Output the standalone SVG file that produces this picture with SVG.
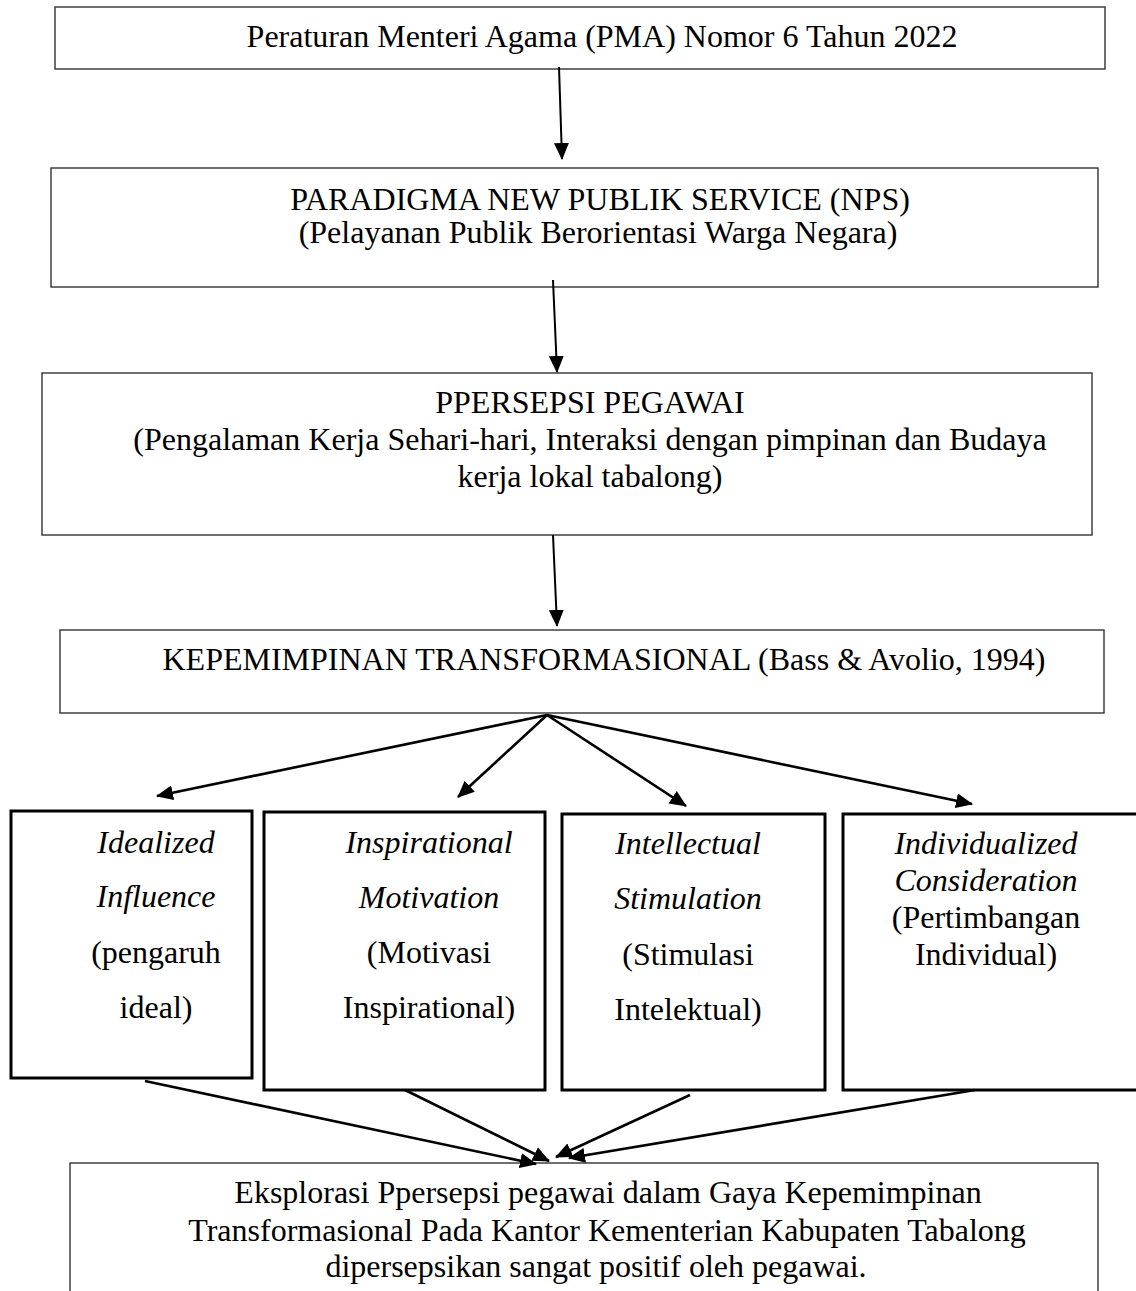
<svg xmlns="http://www.w3.org/2000/svg" width="1136" height="1291" viewBox="0 0 1136 1291">
<style>
.box{fill:#fff;stroke:#333;stroke-width:1.4}
.sub{fill:#fff;stroke:#000;stroke-width:3}
.t{font-family:"Liberation Serif","Times New Roman",serif;font-size:32px;fill:#000;text-anchor:middle}
.i{font-style:italic}
.c{stroke:#000;stroke-width:2;fill:none;marker-end:url(#ah)}
.f{stroke:#000;stroke-width:2.6;fill:none;marker-end:url(#ah)}
</style>
<defs>
<marker id="ah" markerUnits="userSpaceOnUse" markerWidth="17" markerHeight="15" refX="16" refY="7.5" orient="auto" viewBox="0 0 17 15">
<path d="M0,0 L17,7.5 L0,15 z" fill="#000"/>
</marker>
</defs>
<rect width="1136" height="1291" fill="#fff"/>
<g id="n1">
<rect class="box" x="55" y="7" width="1050" height="62"/>
<text class="t" x="602" y="47">Peraturan Menteri Agama (PMA) Nomor 6 Tahun 2022</text>
</g>
<g id="n2">
<rect class="box" x="51" y="168" width="1047" height="119"/>
<text class="t" x="600" y="210">PARADIGMA NEW PUBLIK SERVICE (NPS)</text>
<text class="t" x="598" y="243">(Pelayanan Publik Berorientasi Warga Negara)</text>
</g>
<g id="n3">
<rect class="box" x="42" y="373" width="1050" height="162"/>
<text class="t" x="590" y="413">PPERSEPSI PEGAWAI</text>
<text class="t" x="590" y="450">(Pengalaman Kerja Sehari-hari, Interaksi dengan pimpinan dan Budaya</text>
<text class="t" x="590" y="487">kerja lokal tabalong)</text>
</g>
<g id="n4">
<rect class="box" x="60" y="630" width="1044" height="83"/>
<text class="t" x="604" y="670">KEPEMIMPINAN TRANSFORMASIONAL (Bass &amp; Avolio, 1994)</text>
</g>
<g id="nA">
<rect class="sub" x="11" y="811" width="241" height="267"/>
<text class="t i" x="156" y="853">Idealized</text>
<text class="t i" x="156" y="907">Influence</text>
<text class="t" x="156" y="963">(pengaruh</text>
<text class="t" x="156" y="1018">ideal)</text>
</g>
<g id="nB">
<rect class="sub" x="264" y="812" width="281" height="278"/>
<text class="t i" x="429" y="853">Inspirational</text>
<text class="t i" x="429" y="908">Motivation</text>
<text class="t" x="429" y="963">(Motivasi</text>
<text class="t" x="429" y="1018">Inspirational)</text>
</g>
<g id="nC">
<rect class="sub" x="562" y="814" width="263" height="276"/>
<text class="t i" x="688" y="854">Intellectual</text>
<text class="t i" x="688" y="909">Stimulation</text>
<text class="t" x="688" y="965">(Stimulasi</text>
<text class="t" x="688" y="1020">Intelektual)</text>
</g>
<g id="nD">
<rect class="sub" x="843" y="814" width="300" height="276"/>
<text class="t i" x="986" y="854">Individualized</text>
<text class="t i" x="986" y="891">Consideration</text>
<text class="t" x="986" y="928">(Pertimbangan</text>
<text class="t" x="986" y="965">Individual)</text>
</g>
<g id="n5">
<rect class="box" x="70" y="1163" width="1028" height="200"/>
<text class="t" x="608" y="1203">Eksplorasi Ppersepsi pegawai dalam Gaya Kepemimpinan</text>
<text class="t" x="607" y="1241">Transformasional Pada Kantor Kementerian Kabupaten Tabalong</text>
<text class="t" x="596" y="1277">dipersepsikan sangat positif oleh pegawai.</text>
</g>
<g id="connectors">
<line class="c" x1="559" y1="67" x2="562" y2="159"/>
<line class="c" x1="553" y1="280" x2="557" y2="372"/>
<line class="c" x1="553" y1="535" x2="557" y2="626"/>
<line class="f" x1="547" y1="715" x2="157" y2="796"/>
<line class="f" x1="547" y1="715" x2="458" y2="797"/>
<line class="f" x1="547" y1="715" x2="686" y2="806"/>
<line class="f" x1="547" y1="715" x2="972" y2="804"/>
<line class="f" x1="145" y1="1081" x2="536" y2="1164"/>
<line class="f" x1="405" y1="1090" x2="549" y2="1161"/>
<line class="f" x1="690" y1="1095" x2="556" y2="1157"/>
<line class="f" x1="975" y1="1090" x2="569" y2="1158"/>
</g>
</svg>
